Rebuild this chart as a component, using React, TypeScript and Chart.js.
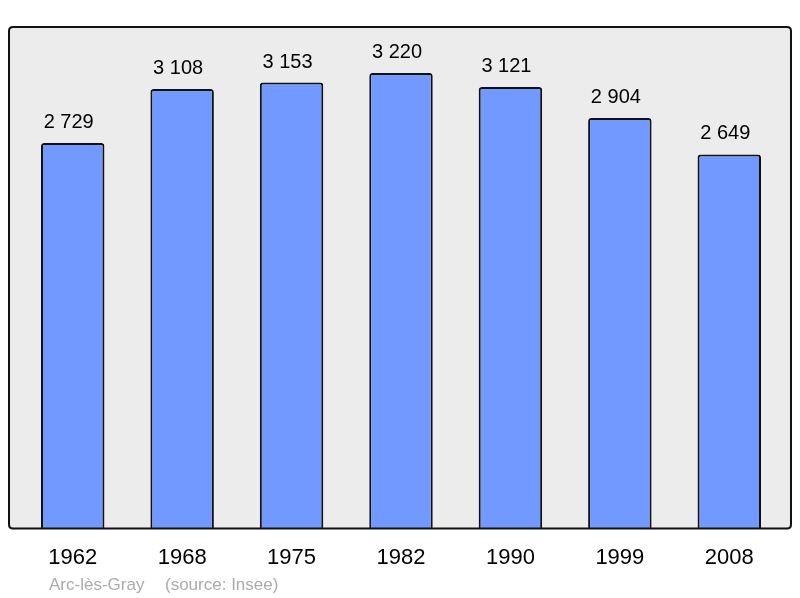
import React, { useEffect, useRef } from "react";
import { Chart, registerables } from "chart.js";

Chart.register(...registerables);

const years = ["1962", "1968", "1975", "1982", "1990", "1999", "2008"];
const population = [2729, 3108, 3153, 3220, 3121, 2904, 2649];
const placeName = "Arc-lès-Gray";
const sourceNote = "(source: Insee)";

const fmt = (v: number) => {
  const s = String(Math.round(v));
  return s.replace(/\B(?=(\d{3})+(?!\d))/g, " ");
};

const FONT = "'Liberation Sans', Arial, sans-serif";

function framePath(ctx: CanvasRenderingContext2D) {
  const x0 = 9, y0 = 27, x1 = 791, y1 = 528.5, r = 4;
  ctx.beginPath();
  ctx.moveTo(x0 + r, y0);
  ctx.lineTo(x1 - r, y0);
  ctx.quadraticCurveTo(x1, y0, x1, y0 + r);
  ctx.lineTo(x1, y1 - r);
  ctx.quadraticCurveTo(x1, y1, x1 - r, y1);
  ctx.lineTo(x0 + r, y1);
  ctx.quadraticCurveTo(x0, y1, x0, y1 - r);
  ctx.lineTo(x0, y0 + r);
  ctx.quadraticCurveTo(x0, y0, x0 + r, y0);
  ctx.closePath();
}

const framePlugin = {
  id: "frame",
  beforeDraw(chart: any) {
    const ctx = chart.ctx;
    ctx.save();
    framePath(ctx);
    ctx.fillStyle = "#ececec";
    ctx.fill();
    ctx.restore();
  },
  afterDatasetsDraw(chart: any) {
    const ctx = chart.ctx;
    ctx.save();
    framePath(ctx);
    ctx.lineWidth = 2;
    ctx.strokeStyle = "#111";
    ctx.stroke();

    const meta = chart.getDatasetMeta(0);
    ctx.fillStyle = "#000";
    ctx.font = `20px ${FONT}`;
    ctx.textAlign = "center";
    ctx.textBaseline = "alphabetic";
    meta.data.forEach((bar: any, i: number) => {
      ctx.fillText(fmt(population[i]), bar.x - 4, bar.y - 15);
    });

    ctx.fillStyle = "#ababab";
    ctx.font = `17px ${FONT}`;
    ctx.textAlign = "left";
    ctx.fillText(placeName, 49, 590);
    ctx.fillText(sourceNote, 165, 590);
    ctx.restore();
  },
};

export default function App() {
  const ref = useRef<HTMLCanvasElement | null>(null);
  useEffect(() => {
    if (!ref.current) return;
    const chart = new Chart(ref.current, {
      type: "bar",
      data: {
        labels: years,
        datasets: [
          {
            data: population,
            backgroundColor: "#7299ff",
            borderColor: "#111",
            borderWidth: 2,
            borderRadius: 3,
            borderSkipped: "bottom",
            categoryPercentage: 1,
            barPercentage: 0.58,
          },
        ],
      },
      options: {
        animation: false,
        responsive: true,
        maintainAspectRatio: false,
        layout: { padding: { left: 18, right: 16, top: 27, bottom: 11 } },
        plugins: { legend: { display: false }, tooltip: { enabled: false } },
        scales: {
          x: {
            grid: { display: false, drawTicks: false },
            border: { display: false },
            ticks: { color: "#000", font: { family: FONT, size: 22 }, padding: 16 },
          },
          y: {
            display: false,
            min: 28,
            max: 3542,
          },
        },
      },
      plugins: [framePlugin],
    });
    return () => chart.destroy();
  }, []);
  return (
    <div style={{ position: "absolute", left: 0, top: 0, width: 800, height: 598 }}>
      <canvas ref={ref} />
    </div>
  );
}
